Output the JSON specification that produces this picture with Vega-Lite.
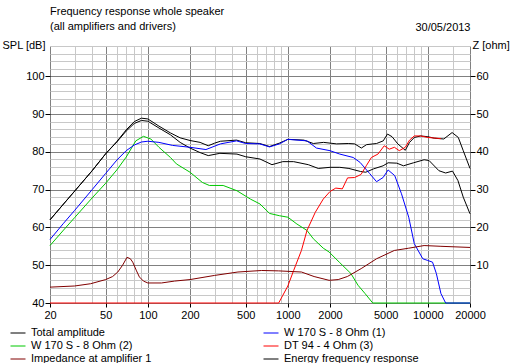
{
  "$schema": "https://vega.github.io/schema/vega-lite/v6.json",
  "width": 420,
  "height": 257,
  "autosize": "none",
  "padding": {"left": 50, "top": 46, "right": 48, "bottom": 60},
  "background": "white",
  "config": {"view": {"stroke": null}, "font": "Liberation Sans"},
  "title": {
    "text": "Frequency response whole speaker",
    "subtitle": "(all amplifiers and drivers)",
    "anchor": "start",
    "frame": "group",
    "font": "Liberation Sans",
    "fontSize": 11,
    "fontWeight": "normal",
    "color": "black",
    "subtitleFont": "Liberation Sans",
    "subtitleFontSize": 11,
    "subtitleColor": "black",
    "subtitlePadding": 4,
    "offset": -11
  },
  "datasets": {
    "spl": [
      {"s": "Energy frequency response", "f": 20, "db": 62},
      {"s": "Energy frequency response", "f": 25, "db": 66.2},
      {"s": "Energy frequency response", "f": 30, "db": 69.6},
      {"s": "Energy frequency response", "f": 40, "db": 75},
      {"s": "Energy frequency response", "f": 50, "db": 79.5},
      {"s": "Energy frequency response", "f": 60, "db": 82.6},
      {"s": "Energy frequency response", "f": 70, "db": 85.5},
      {"s": "Energy frequency response", "f": 80, "db": 87.5},
      {"s": "Energy frequency response", "f": 90, "db": 88.3},
      {"s": "Energy frequency response", "f": 100, "db": 88.1},
      {"s": "Energy frequency response", "f": 120, "db": 86.3},
      {"s": "Energy frequency response", "f": 145, "db": 84.5},
      {"s": "Energy frequency response", "f": 170, "db": 82.5},
      {"s": "Energy frequency response", "f": 200, "db": 81},
      {"s": "Energy frequency response", "f": 236, "db": 79.8},
      {"s": "Energy frequency response", "f": 270, "db": 79},
      {"s": "Energy frequency response", "f": 327, "db": 79.6},
      {"s": "Energy frequency response", "f": 433, "db": 79.4},
      {"s": "Energy frequency response", "f": 500, "db": 78.7},
      {"s": "Energy frequency response", "f": 632, "db": 78.1},
      {"s": "Energy frequency response", "f": 770, "db": 76.6},
      {"s": "Energy frequency response", "f": 920, "db": 77.4},
      {"s": "Energy frequency response", "f": 1100, "db": 77.4},
      {"s": "Energy frequency response", "f": 1400, "db": 76.6},
      {"s": "Energy frequency response", "f": 1650, "db": 75.6},
      {"s": "Energy frequency response", "f": 2000, "db": 75.9},
      {"s": "Energy frequency response", "f": 2350, "db": 75.9},
      {"s": "Energy frequency response", "f": 2730, "db": 75.6},
      {"s": "Energy frequency response", "f": 3300, "db": 74.8},
      {"s": "Energy frequency response", "f": 3600, "db": 74.6},
      {"s": "Energy frequency response", "f": 4100, "db": 75.5},
      {"s": "Energy frequency response", "f": 4790, "db": 76.3},
      {"s": "Energy frequency response", "f": 5200, "db": 77.1},
      {"s": "Energy frequency response", "f": 6000, "db": 77},
      {"s": "Energy frequency response", "f": 6700, "db": 76.3},
      {"s": "Energy frequency response", "f": 7900, "db": 77.1},
      {"s": "Energy frequency response", "f": 9400, "db": 77.9},
      {"s": "Energy frequency response", "f": 10200, "db": 77.7},
      {"s": "Energy frequency response", "f": 12000, "db": 75},
      {"s": "Energy frequency response", "f": 13400, "db": 74.4},
      {"s": "Energy frequency response", "f": 15000, "db": 74.9},
      {"s": "Energy frequency response", "f": 16400, "db": 72.4},
      {"s": "Energy frequency response", "f": 17900, "db": 68},
      {"s": "Energy frequency response", "f": 20000, "db": 63.6},

      {"s": "Total amplitude", "f": 20, "db": 62},
      {"s": "Total amplitude", "f": 25, "db": 66.2},
      {"s": "Total amplitude", "f": 30, "db": 69.6},
      {"s": "Total amplitude", "f": 40, "db": 75},
      {"s": "Total amplitude", "f": 50, "db": 79.5},
      {"s": "Total amplitude", "f": 60, "db": 82.7},
      {"s": "Total amplitude", "f": 70, "db": 85.8},
      {"s": "Total amplitude", "f": 80, "db": 88},
      {"s": "Total amplitude", "f": 90, "db": 88.9},
      {"s": "Total amplitude", "f": 100, "db": 88.7},
      {"s": "Total amplitude", "f": 120, "db": 86.8},
      {"s": "Total amplitude", "f": 145, "db": 85},
      {"s": "Total amplitude", "f": 170, "db": 83.7},
      {"s": "Total amplitude", "f": 200, "db": 83},
      {"s": "Total amplitude", "f": 236, "db": 82.5},
      {"s": "Total amplitude", "f": 270, "db": 81.6},
      {"s": "Total amplitude", "f": 300, "db": 82.3},
      {"s": "Total amplitude", "f": 330, "db": 82.8},
      {"s": "Total amplitude", "f": 430, "db": 83.1},
      {"s": "Total amplitude", "f": 500, "db": 82.4},
      {"s": "Total amplitude", "f": 630, "db": 82.2},
      {"s": "Total amplitude", "f": 740, "db": 81.4},
      {"s": "Total amplitude", "f": 870, "db": 82.3},
      {"s": "Total amplitude", "f": 1000, "db": 83.3},
      {"s": "Total amplitude", "f": 1300, "db": 83.1},
      {"s": "Total amplitude", "f": 1520, "db": 82.2},
      {"s": "Total amplitude", "f": 1800, "db": 82.5},
      {"s": "Total amplitude", "f": 2230, "db": 82.1},
      {"s": "Total amplitude", "f": 2700, "db": 82.2},
      {"s": "Total amplitude", "f": 3000, "db": 82.1},
      {"s": "Total amplitude", "f": 3350, "db": 81},
      {"s": "Total amplitude", "f": 3650, "db": 81.9},
      {"s": "Total amplitude", "f": 4300, "db": 82.2},
      {"s": "Total amplitude", "f": 4800, "db": 82.9},
      {"s": "Total amplitude", "f": 5150, "db": 84.7},
      {"s": "Total amplitude", "f": 5550, "db": 84},
      {"s": "Total amplitude", "f": 6100, "db": 82.1},
      {"s": "Total amplitude", "f": 6900, "db": 80.4},
      {"s": "Total amplitude", "f": 7400, "db": 82.5},
      {"s": "Total amplitude", "f": 8000, "db": 83.8},
      {"s": "Total amplitude", "f": 8900, "db": 84.2},
      {"s": "Total amplitude", "f": 10000, "db": 84},
      {"s": "Total amplitude", "f": 11100, "db": 83.6},
      {"s": "Total amplitude", "f": 13000, "db": 83.4},
      {"s": "Total amplitude", "f": 14900, "db": 85.1},
      {"s": "Total amplitude", "f": 16500, "db": 83.8},
      {"s": "Total amplitude", "f": 17900, "db": 80.3},
      {"s": "Total amplitude", "f": 20000, "db": 75.6},

      {"s": "W 170 S - 8 Ohm (2)", "f": 20, "db": 55.2},
      {"s": "W 170 S - 8 Ohm (2)", "f": 25, "db": 59.3},
      {"s": "W 170 S - 8 Ohm (2)", "f": 30, "db": 62.6},
      {"s": "W 170 S - 8 Ohm (2)", "f": 40, "db": 67.8},
      {"s": "W 170 S - 8 Ohm (2)", "f": 50, "db": 71.7},
      {"s": "W 170 S - 8 Ohm (2)", "f": 60, "db": 75.2},
      {"s": "W 170 S - 8 Ohm (2)", "f": 70, "db": 78.6},
      {"s": "W 170 S - 8 Ohm (2)", "f": 82, "db": 82.9},
      {"s": "W 170 S - 8 Ohm (2)", "f": 93, "db": 84.1},
      {"s": "W 170 S - 8 Ohm (2)", "f": 105, "db": 83.4},
      {"s": "W 170 S - 8 Ohm (2)", "f": 120, "db": 81.2},
      {"s": "W 170 S - 8 Ohm (2)", "f": 145, "db": 78.5},
      {"s": "W 170 S - 8 Ohm (2)", "f": 160, "db": 76.8},
      {"s": "W 170 S - 8 Ohm (2)", "f": 200, "db": 74.6},
      {"s": "W 170 S - 8 Ohm (2)", "f": 245, "db": 71.9},
      {"s": "W 170 S - 8 Ohm (2)", "f": 275, "db": 71.1},
      {"s": "W 170 S - 8 Ohm (2)", "f": 345, "db": 71.1},
      {"s": "W 170 S - 8 Ohm (2)", "f": 433, "db": 69.7},
      {"s": "W 170 S - 8 Ohm (2)", "f": 540, "db": 67.5},
      {"s": "W 170 S - 8 Ohm (2)", "f": 632, "db": 66.2},
      {"s": "W 170 S - 8 Ohm (2)", "f": 740, "db": 63.7},
      {"s": "W 170 S - 8 Ohm (2)", "f": 870, "db": 63.1},
      {"s": "W 170 S - 8 Ohm (2)", "f": 1000, "db": 62.7},
      {"s": "W 170 S - 8 Ohm (2)", "f": 1160, "db": 60.9},
      {"s": "W 170 S - 8 Ohm (2)", "f": 1370, "db": 59.2},
      {"s": "W 170 S - 8 Ohm (2)", "f": 1520, "db": 57},
      {"s": "W 170 S - 8 Ohm (2)", "f": 1790, "db": 54.5},
      {"s": "W 170 S - 8 Ohm (2)", "f": 1970, "db": 53.5},
      {"s": "W 170 S - 8 Ohm (2)", "f": 2330, "db": 50.8},
      {"s": "W 170 S - 8 Ohm (2)", "f": 2820, "db": 47.8},
      {"s": "W 170 S - 8 Ohm (2)", "f": 3170, "db": 44.7},
      {"s": "W 170 S - 8 Ohm (2)", "f": 3560, "db": 42.5},
      {"s": "W 170 S - 8 Ohm (2)", "f": 4040, "db": 40},
      {"s": "W 170 S - 8 Ohm (2)", "f": 20000, "db": 40},

      {"s": "W 170 S - 8 Ohm (1)", "f": 20, "db": 56.8},
      {"s": "W 170 S - 8 Ohm (1)", "f": 25, "db": 61.1},
      {"s": "W 170 S - 8 Ohm (1)", "f": 30, "db": 64.5},
      {"s": "W 170 S - 8 Ohm (1)", "f": 40, "db": 70},
      {"s": "W 170 S - 8 Ohm (1)", "f": 50, "db": 74.3},
      {"s": "W 170 S - 8 Ohm (1)", "f": 60, "db": 77.8},
      {"s": "W 170 S - 8 Ohm (1)", "f": 70, "db": 80.3},
      {"s": "W 170 S - 8 Ohm (1)", "f": 80, "db": 81.8},
      {"s": "W 170 S - 8 Ohm (1)", "f": 90, "db": 82.6},
      {"s": "W 170 S - 8 Ohm (1)", "f": 100, "db": 82.8},
      {"s": "W 170 S - 8 Ohm (1)", "f": 120, "db": 82.5},
      {"s": "W 170 S - 8 Ohm (1)", "f": 150, "db": 81.7},
      {"s": "W 170 S - 8 Ohm (1)", "f": 200, "db": 81.2},
      {"s": "W 170 S - 8 Ohm (1)", "f": 260, "db": 80.6},
      {"s": "W 170 S - 8 Ohm (1)", "f": 330, "db": 82.1},
      {"s": "W 170 S - 8 Ohm (1)", "f": 430, "db": 82.9},
      {"s": "W 170 S - 8 Ohm (1)", "f": 500, "db": 82.2},
      {"s": "W 170 S - 8 Ohm (1)", "f": 630, "db": 82.1},
      {"s": "W 170 S - 8 Ohm (1)", "f": 740, "db": 81.3},
      {"s": "W 170 S - 8 Ohm (1)", "f": 870, "db": 82.1},
      {"s": "W 170 S - 8 Ohm (1)", "f": 1000, "db": 83.3},
      {"s": "W 170 S - 8 Ohm (1)", "f": 1370, "db": 82.9},
      {"s": "W 170 S - 8 Ohm (1)", "f": 1600, "db": 81},
      {"s": "W 170 S - 8 Ohm (1)", "f": 2000, "db": 80.3},
      {"s": "W 170 S - 8 Ohm (1)", "f": 2350, "db": 79.4},
      {"s": "W 170 S - 8 Ohm (1)", "f": 2930, "db": 78.5},
      {"s": "W 170 S - 8 Ohm (1)", "f": 3280, "db": 77.2},
      {"s": "W 170 S - 8 Ohm (1)", "f": 3830, "db": 74.3},
      {"s": "W 170 S - 8 Ohm (1)", "f": 4300, "db": 72.1},
      {"s": "W 170 S - 8 Ohm (1)", "f": 4790, "db": 73.2},
      {"s": "W 170 S - 8 Ohm (1)", "f": 5200, "db": 75.2},
      {"s": "W 170 S - 8 Ohm (1)", "f": 5800, "db": 73.7},
      {"s": "W 170 S - 8 Ohm (1)", "f": 6480, "db": 68.9},
      {"s": "W 170 S - 8 Ohm (1)", "f": 7300, "db": 62.7},
      {"s": "W 170 S - 8 Ohm (1)", "f": 8000, "db": 55.7},
      {"s": "W 170 S - 8 Ohm (1)", "f": 9200, "db": 51.7},
      {"s": "W 170 S - 8 Ohm (1)", "f": 9900, "db": 51.3},
      {"s": "W 170 S - 8 Ohm (1)", "f": 10800, "db": 50.8},
      {"s": "W 170 S - 8 Ohm (1)", "f": 11500, "db": 47.8},
      {"s": "W 170 S - 8 Ohm (1)", "f": 12400, "db": 42.5},
      {"s": "W 170 S - 8 Ohm (1)", "f": 13400, "db": 40},
      {"s": "W 170 S - 8 Ohm (1)", "f": 20000, "db": 40},

      {"s": "DT 94 - 4 Ohm (3)", "f": 20, "db": 40},
      {"s": "DT 94 - 4 Ohm (3)", "f": 860, "db": 40},
      {"s": "DT 94 - 4 Ohm (3)", "f": 1000, "db": 44.5},
      {"s": "DT 94 - 4 Ohm (3)", "f": 1100, "db": 48.6},
      {"s": "DT 94 - 4 Ohm (3)", "f": 1250, "db": 53.9},
      {"s": "DT 94 - 4 Ohm (3)", "f": 1370, "db": 59.2},
      {"s": "DT 94 - 4 Ohm (3)", "f": 1570, "db": 64},
      {"s": "DT 94 - 4 Ohm (3)", "f": 1790, "db": 67.5},
      {"s": "DT 94 - 4 Ohm (3)", "f": 2000, "db": 69.5},
      {"s": "DT 94 - 4 Ohm (3)", "f": 2200, "db": 70.4},
      {"s": "DT 94 - 4 Ohm (3)", "f": 2450, "db": 70.2},
      {"s": "DT 94 - 4 Ohm (3)", "f": 2670, "db": 73.1},
      {"s": "DT 94 - 4 Ohm (3)", "f": 3000, "db": 73.2},
      {"s": "DT 94 - 4 Ohm (3)", "f": 3330, "db": 74},
      {"s": "DT 94 - 4 Ohm (3)", "f": 3630, "db": 76.3},
      {"s": "DT 94 - 4 Ohm (3)", "f": 3950, "db": 78.5},
      {"s": "DT 94 - 4 Ohm (3)", "f": 4400, "db": 79.4},
      {"s": "DT 94 - 4 Ohm (3)", "f": 4880, "db": 81.6},
      {"s": "DT 94 - 4 Ohm (3)", "f": 5300, "db": 80.7},
      {"s": "DT 94 - 4 Ohm (3)", "f": 5770, "db": 81.2},
      {"s": "DT 94 - 4 Ohm (3)", "f": 6250, "db": 80.3},
      {"s": "DT 94 - 4 Ohm (3)", "f": 6900, "db": 81.2},
      {"s": "DT 94 - 4 Ohm (3)", "f": 7400, "db": 83.1},
      {"s": "DT 94 - 4 Ohm (3)", "f": 8000, "db": 84.2},
      {"s": "DT 94 - 4 Ohm (3)", "f": 8900, "db": 84.2},
      {"s": "DT 94 - 4 Ohm (3)", "f": 10000, "db": 83.8},
      {"s": "DT 94 - 4 Ohm (3)", "f": 12400, "db": 83.5}
    ],
    "imp": [
      {"s": "Impedance at amplifier 1", "f": 20, "z": 4.2},
      {"s": "Impedance at amplifier 1", "f": 30, "z": 4.5},
      {"s": "Impedance at amplifier 1", "f": 39, "z": 5.1},
      {"s": "Impedance at amplifier 1", "f": 50, "z": 6.2},
      {"s": "Impedance at amplifier 1", "f": 56, "z": 7},
      {"s": "Impedance at amplifier 1", "f": 61, "z": 8.2},
      {"s": "Impedance at amplifier 1", "f": 66, "z": 10},
      {"s": "Impedance at amplifier 1", "f": 71, "z": 12.1},
      {"s": "Impedance at amplifier 1", "f": 75, "z": 11.7},
      {"s": "Impedance at amplifier 1", "f": 78, "z": 10.8},
      {"s": "Impedance at amplifier 1", "f": 83, "z": 8.5},
      {"s": "Impedance at amplifier 1", "f": 87, "z": 6.9},
      {"s": "Impedance at amplifier 1", "f": 93, "z": 5.8},
      {"s": "Impedance at amplifier 1", "f": 100, "z": 5.3},
      {"s": "Impedance at amplifier 1", "f": 125, "z": 5.3},
      {"s": "Impedance at amplifier 1", "f": 155, "z": 5.8},
      {"s": "Impedance at amplifier 1", "f": 200, "z": 6.2},
      {"s": "Impedance at amplifier 1", "f": 300, "z": 7.3},
      {"s": "Impedance at amplifier 1", "f": 440, "z": 8.2},
      {"s": "Impedance at amplifier 1", "f": 650, "z": 8.6},
      {"s": "Impedance at amplifier 1", "f": 860, "z": 8.5},
      {"s": "Impedance at amplifier 1", "f": 1250, "z": 8.2},
      {"s": "Impedance at amplifier 1", "f": 1540, "z": 7},
      {"s": "Impedance at amplifier 1", "f": 1970, "z": 6},
      {"s": "Impedance at amplifier 1", "f": 2290, "z": 6.2},
      {"s": "Impedance at amplifier 1", "f": 2660, "z": 7},
      {"s": "Impedance at amplifier 1", "f": 3340, "z": 9.1},
      {"s": "Impedance at amplifier 1", "f": 4300, "z": 11.7},
      {"s": "Impedance at amplifier 1", "f": 5760, "z": 13.9},
      {"s": "Impedance at amplifier 1", "f": 7300, "z": 14.5},
      {"s": "Impedance at amplifier 1", "f": 9400, "z": 15.2},
      {"s": "Impedance at amplifier 1", "f": 12400, "z": 15},
      {"s": "Impedance at amplifier 1", "f": 20000, "z": 14.7}
    ]
  },
  "layer": [
    {
      "data": {"name": "spl"},
      "mark": {"type": "line", "strokeWidth": 1},
      "encoding": {
        "x": {
          "field": "f", "type": "quantitative",
          "scale": {"type": "log", "domain": [20, 20000]},
          "axis": {
            "values": [20,30,40,50,60,70,80,90,100,200,300,400,500,600,700,800,900,1000,2000,3000,4000,5000,6000,7000,8000,9000,10000,15000,20000],
            "labelExpr": "indexof([20,50,100,200,500,1000,2000,5000,10000,20000], datum.value) >= 0 ? '' + datum.value : ''",
            "gridColor": {"condition": {"test": "indexof([20,50,100,200,500,1000,2000,5000,10000,20000], datum.value) >= 0", "value": "#808080"}, "value": "#c8c8c8"},
            "tickOpacity": {"condition": {"test": "indexof([20,50,100,200,500,1000,2000,5000,10000,20000], datum.value) >= 0", "value": 1}, "value": 0},
            "gridOpacity": 1,
            "tickSize": 4, "tickColor": "black",
            "domain": false, "title": null,
            "labelFont": "Liberation Sans", "labelFontSize": 11, "labelColor": "black",
            "labelPadding": 2, "labelFlush": false, "labelOverlap": false, "labelBound": false
          }
        },
        "y": {
          "field": "db", "type": "quantitative",
          "scale": {"domain": [40, 108], "nice": false, "zero": false},
          "axis": {
            "values": [40,42,44,46,48,50,52,54,56,58,60,62,64,66,68,70,72,74,76,78,80,82,84,86,88,90,92,94,96,98,100,102,104,106,108],
            "labelExpr": "datum.value % 10 == 0 && datum.value <= 100 ? '' + datum.value : ''",
            "gridColor": {"condition": {"test": "datum.value % 10 == 0", "value": "#808080"}, "value": "#c8c8c8"},
            "tickOpacity": {"condition": {"test": "datum.value % 10 == 0 && datum.value <= 100", "value": 1}, "value": 0},
            "gridOpacity": 1,
            "tickSize": 5, "tickColor": "black",
            "domain": false,
            "labelFont": "Liberation Sans", "labelFontSize": 11, "labelColor": "black",
            "labelPadding": 1, "labelOverlap": false, "labelBound": false, "labelFlush": false,
            "title": "SPL [dB]",
            "titleFont": "Liberation Sans", "titleFontSize": 11, "titleFontWeight": "normal", "titleColor": "black",
            "titleAngle": 0, "titleAlign": "right", "titleBaseline": "middle", "titleX": -5, "titleY": -1
          }
        },
        "color": {
          "field": "s", "type": "nominal",
          "scale": {
            "domain": ["Total amplitude", "W 170 S - 8 Ohm (2)", "Impedance at amplifier 1", "W 170 S - 8 Ohm (1)", "DT 94 - 4 Ohm (3)", "Energy frequency response"],
            "range": ["#000000", "#00c800", "#800000", "#0000ff", "#ff0000", "#000000"]
          },
          "legend": {
            "orient": "none", "legendX": -40, "legendY": 279,
            "columns": 2, "columnPadding": 109, "rowPadding": -0.5,
            "symbolType": "M-1,0H1", "symbolSize": 225, "symbolStrokeWidth": 1,
            "labelFont": "Liberation Sans", "labelFontSize": 11, "labelColor": "black",
            "labelOffset": 5, "title": null, "padding": 0, "labelLimit": 300
          }
        }
      }
    },
    {
      "data": {"name": "imp"},
      "mark": {"type": "line", "strokeWidth": 1},
      "encoding": {
        "x": {
          "field": "f", "type": "quantitative",
          "scale": {"type": "log", "domain": [20, 20000]},
          "axis": {
            "orient": "top", "labels": false, "ticks": false, "grid": false, "domain": false,
            "title": "30/05/2013",
            "titleFont": "Liberation Sans", "titleFontSize": 11, "titleFontWeight": "normal", "titleColor": "black",
            "titleX": 420, "titleY": -19, "titleAlign": "right", "titleBaseline": "middle"
          }
        },
        "y": {
          "field": "z", "type": "quantitative",
          "scale": {"domain": [0, 68], "nice": false, "zero": false},
          "axis": {
            "orient": "right",
            "values": [10, 20, 30, 40, 50, 60],
            "grid": false, "domain": false,
            "tickSize": 5, "tickColor": "black",
            "labelFont": "Liberation Sans", "labelFontSize": 11, "labelColor": "black",
            "labelPadding": 1,
            "title": "Z [ohm]",
            "titleFont": "Liberation Sans", "titleFontSize": 11, "titleFontWeight": "normal", "titleColor": "black",
            "titleAngle": 0, "titleAlign": "left", "titleBaseline": "middle", "titleX": 2, "titleY": -1
          }
        },
        "color": {"field": "s", "type": "nominal"}
      }
    }
  ],
  "resolve": {"scale": {"y": "independent"}, "axis": {"x": "independent", "y": "independent"}}
}
